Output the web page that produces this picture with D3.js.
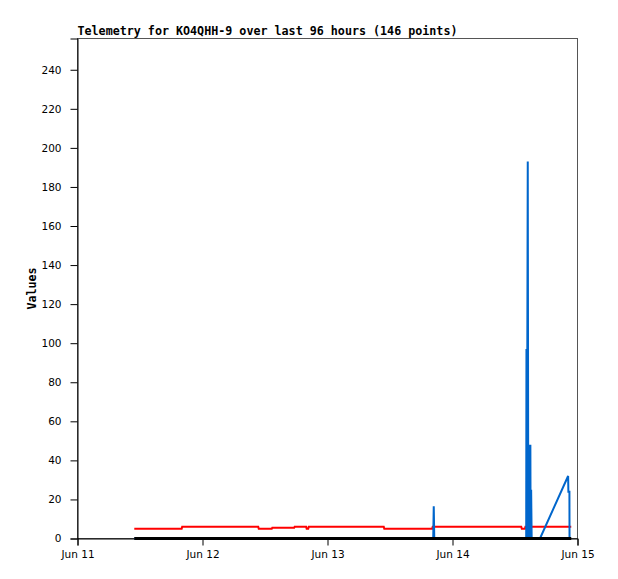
<!DOCTYPE html>
<html>
<head>
<meta charset="utf-8">
<script src="https://cdn.jsdelivr.net/npm/d3@7"></script>
<style>
  body { margin: 0; background: #fff; }
  .tick text { font-family: "DejaVu Sans", sans-serif; font-size: 10.5px; fill: #000; }
</style>
</head>
<body>
<div id="chart"></div>
<script>
// Hours since Jun 11 00:00 and telemetry values
const redSeries = [
  [10.9, 5], [20.0, 5], [20.1, 6], [34.7, 6], [34.8, 5], [37.3, 5], [37.4, 5.5],
  [41.6, 5.5], [41.7, 6], [43.9, 6], [44.0, 5], [44.3, 5], [44.4, 6], [58.8, 6],
  [58.9, 5], [68.1, 5], [68.2, 6], [85.2, 6], [85.3, 5], [85.9, 5], [86.0, 6], [94.8, 6]
];
const blueSeries = [
  [10.9, 0], [68.3, 0], [68.4, 16.5], [68.5, 0], [86.15, 0], [86.2, 97], [86.28, 0],
  [86.45, 193], [86.55, 0], [86.75, 48], [86.85, 0], [86.95, 48], [87.0, 0],
  [87.1, 25], [87.2, 0], [88.8, 0], [94.2, 32], [94.25, 24], [94.45, 24], [94.47, 0]
];
const blackSeries = [[10.9, 0], [94.8, 0]];
const yTicks = [0, 20, 40, 60, 80, 100, 120, 140, 160, 180, 200, 220, 240];
const xTickLabels = ["Jun 11", "Jun 12", "Jun 13", "Jun 14", "Jun 15"];
const title = "Telemetry for KO4QHH-9 over last 96 hours (146 points)";

const margin = {top: 38, right: 41, bottom: 41, left: 77},
      width = 500,
      height = 500;

const svg = d3.select("#chart")
  .append("svg")
    .attr("width", 618)
    .attr("height", 579)
  .append("g")
    .attr("transform", `translate(${margin.left + 0.5},${margin.top + 0.5})`);

const x = d3.scaleLinear().domain([0, 96]).range([0, width]);
const y = d3.scaleLinear().domain([0, 256]).range([height, 0]);

// frame
svg.append("rect")
  .attr("x", 0).attr("y", 0)
  .attr("width", width).attr("height", height)
  .attr("fill", "none")
  .attr("stroke", "#555");

// y axis
const yAxis = svg.append("g")
  .call(d3.axisLeft(y).tickValues(yTicks).tickSize(7).tickPadding(9));
yAxis.select(".domain").attr("stroke", "#000");

// x axis
const xAxis = svg.append("g")
  .attr("transform", `translate(0,${height})`)
  .call(d3.axisBottom(x).tickValues([0, 24, 48, 72, 96]).tickSize(7).tickPadding(5)
    .tickFormat((d, i) => xTickLabels[i]));
xAxis.select(".domain").attr("stroke", "#000");

// title
svg.append("text")
  .attr("x", 0)
  .attr("y", -4)
  .attr("font-family", "DejaVu Sans Mono, monospace")
  .attr("font-weight", "bold")
  .attr("font-size", "11.7px")
  .text(title);

// y label
svg.append("text")
  .attr("transform", "rotate(-90)")
  .attr("x", -height / 2)
  .attr("y", -42)
  .attr("text-anchor", "middle")
  .attr("font-family", "DejaVu Sans Mono, monospace")
  .attr("font-weight", "bold")
  .attr("font-size", "11.7px")
  .text("Values");

const line = d3.line()
  .x(d => x(d[0]))
  .y(d => y(d[1]));

svg.append("path")
  .datum(redSeries)
  .attr("fill", "none")
  .attr("stroke", "#ff0000")
  .attr("stroke-width", 2)
  .attr("d", line);

svg.append("path")
  .datum(blueSeries)
  .attr("fill", "none")
  .attr("stroke", "#0066cc")
  .attr("stroke-width", 2)
  .attr("d", line);

svg.append("path")
  .datum(blackSeries)
  .attr("fill", "none")
  .attr("stroke", "#000")
  .attr("stroke-width", 3)
  .attr("d", line);
</script>
</body>
</html>
